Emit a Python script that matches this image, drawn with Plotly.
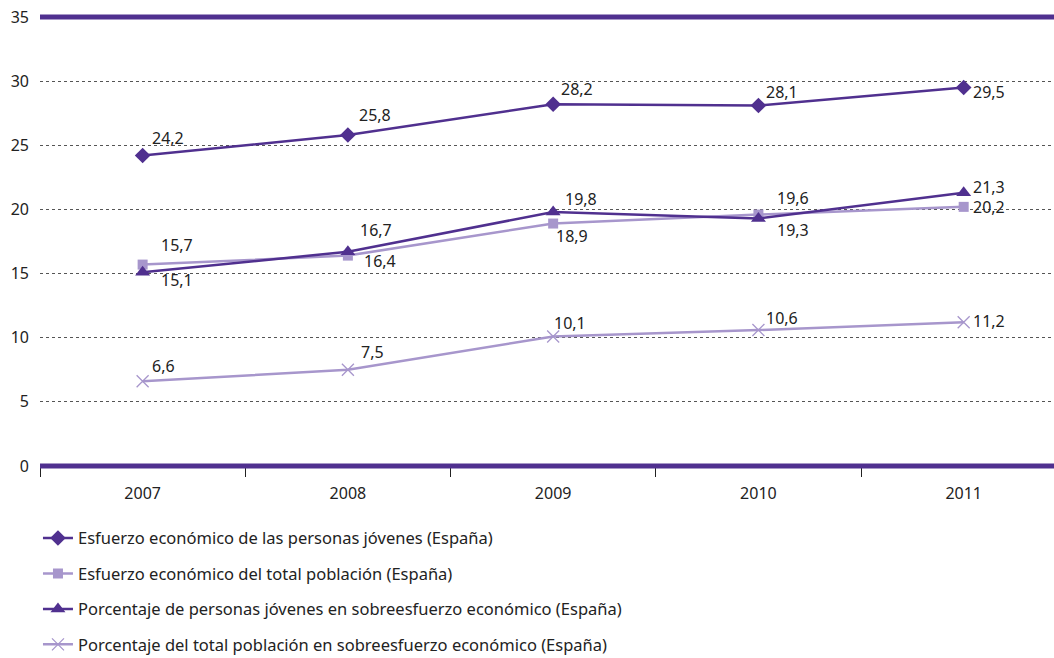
import plotly.graph_objects as go

years = [2007, 2008, 2009, 2010, 2011]
names = [
    "Esfuerzo económico de las personas jóvenes (España)",
    "Esfuerzo económico del total población (España)",
    "Porcentaje de personas jóvenes en sobreesfuerzo económico (España)",
    "Porcentaje del total población en sobreesfuerzo económico (España)",
]
esfuerzo_jovenes = [24.2, 25.8, 28.2, 28.1, 29.5]
esfuerzo_total = [15.7, 16.4, 18.9, 19.6, 20.2]
sobre_jovenes = [15.1, 16.7, 19.8, 19.3, 21.3]
sobre_total = [6.6, 7.5, 10.1, 10.6, 11.2]
y_ticks = [0, 5, 10, 15, 20, 25, 30, 35]

DARK = "#50308F"
LIGHT = "#A796CC"
FONT = "Noto Sans"
TXT = "#222222"

series = [
    (esfuerzo_jovenes, DARK, dict(symbol="diamond", size=12, color=DARK)),
    (esfuerzo_total, LIGHT, dict(symbol="square", size=10, color=LIGHT)),
    (sobre_jovenes, DARK, dict(symbol="triangle-up", size=13, color=DARK)),
    (sobre_total, LIGHT, dict(symbol="x-thin", size=12, color=LIGHT,
                              line=dict(color=LIGHT, width=1.3))),
]

# label offsets (px) per series, per point: (dx, dy up)
offsets = [
    [(25, 18), (27, 20), (24, 15), (24, 14), (25, -4)],
    [(34, 20), (32, -5), (19, -12), (35, 17), (25, 0)],
    [(34, -8), (28, 22), (28, 13), (35, -12), (25, 6)],
    [(21, 15), (25, 18), (17, 13), (24, 12), (25, 1)],
]

fig = go.Figure()
annotations = []
for i, (vals, col, mk) in enumerate(series):
    fig.add_trace(go.Scatter(
        x=years, y=vals, mode="lines+markers", name=names[i],
        line=dict(color=col, width=2.5), marker=mk,
        legendgroup=f"g{i}", hoverinfo="skip",
    ))
    for j, v in enumerate(vals):
        dx, dy = offsets[i][j]
        annotations.append(dict(
            x=years[j], y=v, text=f"{v:.1f}".replace(".", ","),
            showarrow=False, xshift=dx, yshift=dy,
            font=dict(family=FONT, size=16, color=TXT),
        ))

# thick frame lines at the bottom and top of the plotting area
shapes = [
    dict(type="line", xref="paper", x0=0, x1=1, yref="paper", y0=yp, y1=yp,
         line=dict(color=DARK, width=5), layer="above")
    for yp in (0, 1)
]

fig.update_layout(
    width=1054, height=658,
    margin=dict(l=40, r=0, t=17, b=192, autoexpand=False),
    paper_bgcolor="white", plot_bgcolor="white",
    font=dict(family=FONT, size=16, color=TXT),
    annotations=annotations,
    shapes=shapes,
    showlegend=True,
    legend=dict(
        orientation="v", x=-0.002, xanchor="left", y=-0.122, yanchor="top",
        tracegroupgap=11, font=dict(family=FONT, size=16.5, color=TXT),
        bgcolor="rgba(0,0,0,0)",
    ),
)
fig.update_xaxes(
    range=[2006.5, 2011.44], tickvals=years, ticktext=[str(y) for y in years],
    ticks="", showgrid=False, zeroline=False, automargin=False,
    showline=False,
    tickfont=dict(family=FONT, size=16, color=TXT),
    ticklabelstandoff=16,
    minor=dict(tickvals=[2006.5, 2007.5, 2008.5, 2009.5, 2010.5],
               ticks="outside", ticklen=10, tickcolor=TXT, tickwidth=1),
)
fig.update_yaxes(
    range=[0, 35], tickvals=y_ticks, ticks="", showline=False, automargin=False,
    showgrid=True, gridcolor="#555555", gridwidth=1, griddash="dot",
    zeroline=False, ticklabelstandoff=10, ticklabeloverflow="allow",
    tickfont=dict(family=FONT, size=16, color=TXT),
)

fig.write_html("out.html", config={"displayModeBar": False},
               post_script="document.body.style.margin='0';")
